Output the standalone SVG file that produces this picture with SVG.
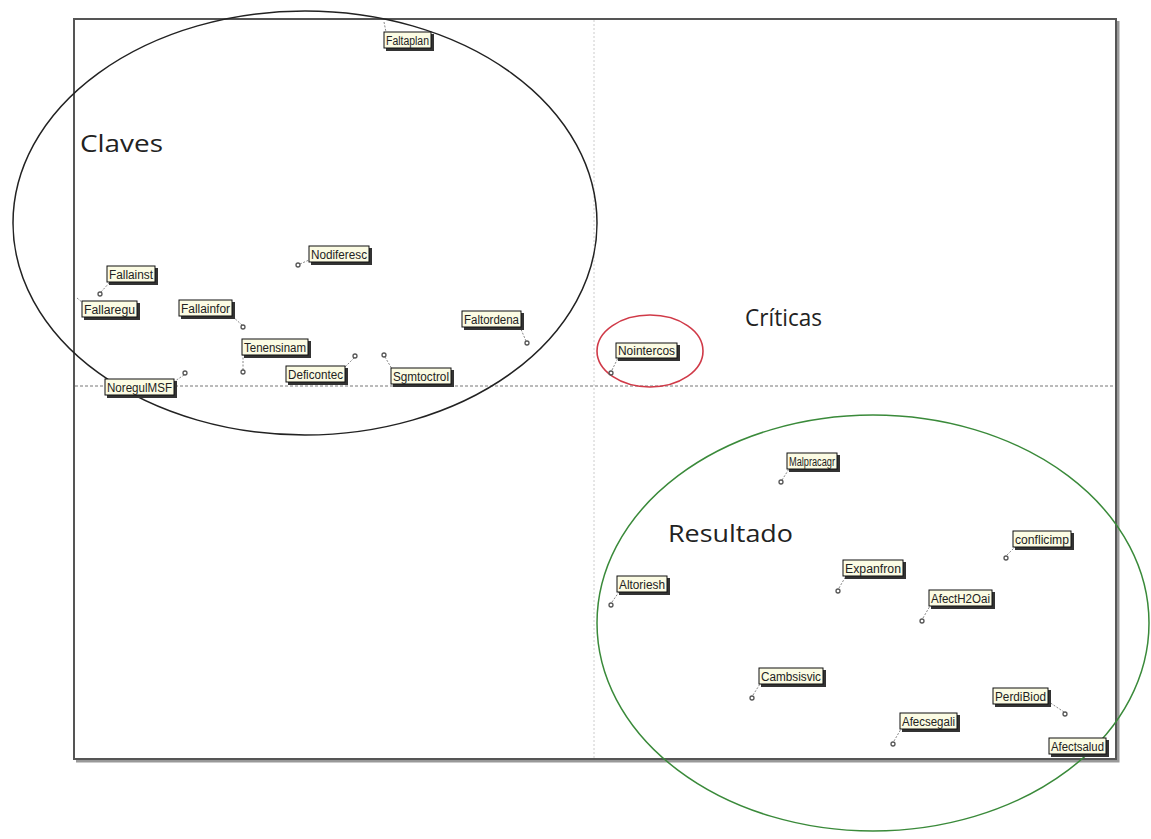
<svg xmlns="http://www.w3.org/2000/svg" width="1151" height="839" viewBox="0 0 1151 839">
<defs>
<style>
.frame{fill:none;stroke:#555;stroke-width:2}
.fshadow{fill:none;stroke:#999;stroke-width:3}
.axis{stroke:#777;stroke-width:1;stroke-dasharray:3,2}
.vaxis{stroke:#ccc;stroke-width:1;stroke-dasharray:2,2}
.sh{fill:#333}
.box{fill:#fbfbe3;stroke:#111;stroke-width:1}
.lbl{font-family:"Liberation Sans",Arial,sans-serif;font-size:12.5px;fill:#222}
.zone{font-family:"Open Sans","Liberation Sans",sans-serif;font-size:23px;fill:#222}
.lead{stroke:#888;stroke-width:1;stroke-dasharray:2,1.5;fill:none}
.pt{fill:none;stroke:#555;stroke-width:1.3}
</style>
</defs>
<rect width="1151" height="839" fill="#fff"/>
<path class="fshadow" d="M 76 761 L 1118 761 L 1118 21"/>
<rect class="frame" x="74" y="19" width="1042" height="740"/>
<line class="vaxis" x1="594" y1="20" x2="594" y2="758"/>
<line class="axis" x1="75" y1="386" x2="1115" y2="386"/>

<g id="zones">
<ellipse cx="305" cy="223" rx="292" ry="212" fill="none" stroke="#222" stroke-width="1.5"/>
<ellipse cx="650" cy="351" rx="53" ry="36" fill="none" stroke="#d03a48" stroke-width="1.6"/>
<ellipse cx="873" cy="623" rx="276" ry="208" fill="none" stroke="#3a8a3a" stroke-width="1.5"/>
<text class="zone" x="80" y="152" textLength="83" lengthAdjust="spacingAndGlyphs">Claves</text>
<text class="zone" x="745" y="326" textLength="77" lengthAdjust="spacingAndGlyphs">Críticas</text>
<text class="zone" x="668" y="542" textLength="125" lengthAdjust="spacingAndGlyphs">Resultado</text>
</g>

<g id="connectors">
<line class="lead" x1="384" y1="22" x2="386" y2="32"/>
<line class="lead" x1="300" y1="264" x2="309" y2="260"/>
<line class="lead" x1="101" y1="292" x2="110" y2="282"/>
<line class="lead" x1="77" y1="298" x2="83" y2="303"/>
<line class="lead" x1="242" y1="325" x2="232" y2="316"/>
<line class="lead" x1="526" y1="341" x2="520" y2="327"/>
<line class="lead" x1="243" y1="370" x2="243" y2="355"/>
<line class="lead" x1="354" y1="358" x2="345" y2="367"/>
<line class="lead" x1="385" y1="357" x2="392" y2="369"/>
<line class="lead" x1="184" y1="375" x2="175" y2="381"/>
<line class="lead" x1="612" y1="370" x2="618" y2="358"/>
<line class="lead" x1="782" y1="480" x2="789" y2="469"/>
<line class="lead" x1="839" y1="588" x2="846" y2="576"/>
<line class="lead" x1="612" y1="602" x2="619" y2="592"/>
<line class="lead" x1="1007" y1="555" x2="1015" y2="547"/>
<line class="lead" x1="923" y1="618" x2="930" y2="606"/>
<line class="lead" x1="753" y1="695" x2="760" y2="684"/>
<line class="lead" x1="1064" y1="712" x2="1049" y2="702"/>
<line class="lead" x1="894" y1="741" x2="901" y2="729"/>
</g>

<g id="n-faltaplan"><rect class="sh" x="386" y="34" width="48" height="17"/><rect class="box" x="384" y="32" width="47" height="16"/><text class="lbl" x="386" y="45" textLength="43" lengthAdjust="spacingAndGlyphs">Faltaplan</text></g>
<g id="n-nodiferesc"><rect class="sh" x="311" y="248" width="61" height="17"/><rect class="box" x="309" y="246" width="60" height="16"/><text class="lbl" x="311" y="259" textLength="56" lengthAdjust="spacingAndGlyphs">Nodiferesc</text><circle class="pt" cx="298" cy="265" r="2"/></g>
<g id="n-fallainst"><rect class="sh" x="109" y="268" width="49" height="17"/><rect class="box" x="107" y="266" width="48" height="16"/><text class="lbl" x="109" y="279" textLength="44" lengthAdjust="spacingAndGlyphs">Fallainst</text><circle class="pt" cx="100" cy="294" r="2"/></g>
<g id="n-fallaregu"><rect class="sh" x="84" y="303" width="56" height="17"/><rect class="box" x="82" y="301" width="55" height="16"/><text class="lbl" x="84" y="314" textLength="51" lengthAdjust="spacingAndGlyphs">Fallaregu</text></g>
<g id="n-fallainfor"><rect class="sh" x="181" y="302" width="54" height="17"/><rect class="box" x="179" y="300" width="53" height="16"/><text class="lbl" x="181" y="313" textLength="49" lengthAdjust="spacingAndGlyphs">Fallainfor</text><circle class="pt" cx="243" cy="327" r="2"/></g>
<g id="n-faltordena"><rect class="sh" x="464" y="313" width="60" height="17"/><rect class="box" x="462" y="311" width="59" height="16"/><text class="lbl" x="464" y="324" textLength="55" lengthAdjust="spacingAndGlyphs">Faltordena</text><circle class="pt" cx="527" cy="343" r="2"/></g>
<g id="n-tenensinam"><rect class="sh" x="244" y="341" width="67" height="17"/><rect class="box" x="242" y="339" width="66" height="16"/><text class="lbl" x="244" y="352" textLength="62" lengthAdjust="spacingAndGlyphs">Tenensinam</text><circle class="pt" cx="243" cy="372" r="2"/></g>
<g id="n-deficontec"><rect class="sh" x="288" y="368" width="60" height="17"/><rect class="box" x="286" y="366" width="59" height="16"/><text class="lbl" x="288" y="379" textLength="55" lengthAdjust="spacingAndGlyphs">Deficontec</text><circle class="pt" cx="355" cy="356" r="2"/></g>
<g id="n-sgmtoctrol"><rect class="sh" x="393" y="370" width="61" height="17"/><rect class="box" x="391" y="368" width="60" height="16"/><text class="lbl" x="393" y="381" textLength="56" lengthAdjust="spacingAndGlyphs">Sgmtoctrol</text><circle class="pt" cx="384" cy="355" r="2"/></g>
<g id="n-noregulmsf"><rect class="sh" x="107" y="381" width="70" height="17"/><rect class="box" x="105" y="379" width="69" height="16"/><text class="lbl" x="107" y="392" textLength="65" lengthAdjust="spacingAndGlyphs">NoregulMSF</text><circle class="pt" cx="185" cy="373" r="2"/></g>
<g id="n-nointercos"><rect class="sh" x="618" y="345" width="62" height="16"/><rect class="box" x="616" y="343" width="61" height="15"/><text class="lbl" x="618" y="355" textLength="57" lengthAdjust="spacingAndGlyphs">Nointercos</text><circle class="pt" cx="611" cy="373" r="2"/></g>
<g id="n-malpracagr"><rect class="sh" x="789" y="455" width="51" height="17"/><rect class="box" x="787" y="453" width="50" height="16"/><text class="lbl" x="789" y="466" textLength="46" lengthAdjust="spacingAndGlyphs">Malpracagr</text><circle class="pt" cx="781" cy="482" r="2"/></g>
<g id="n-expanfron"><rect class="sh" x="845" y="562" width="61" height="17"/><rect class="box" x="843" y="560" width="60" height="16"/><text class="lbl" x="845" y="573" textLength="56" lengthAdjust="spacingAndGlyphs">Expanfron</text><circle class="pt" cx="838" cy="591" r="2"/></g>
<g id="n-altoriesh"><rect class="sh" x="619" y="578" width="51" height="17"/><rect class="box" x="617" y="576" width="50" height="16"/><text class="lbl" x="619" y="589" textLength="46" lengthAdjust="spacingAndGlyphs">Altoriesh</text><circle class="pt" cx="611" cy="605" r="2"/></g>
<g id="n-conflicimp"><rect class="sh" x="1015" y="533" width="59" height="17"/><rect class="box" x="1013" y="531" width="58" height="16"/><text class="lbl" x="1015" y="544" textLength="54" lengthAdjust="spacingAndGlyphs">conflicimp</text><circle class="pt" cx="1006" cy="558" r="2"/></g>
<g id="n-afecth2oai"><rect class="sh" x="931" y="592" width="64" height="17"/><rect class="box" x="929" y="590" width="63" height="16"/><text class="lbl" x="931" y="603" textLength="59" lengthAdjust="spacingAndGlyphs">AfectH2Oai</text><circle class="pt" cx="922" cy="621" r="2"/></g>
<g id="n-cambsisvic"><rect class="sh" x="761" y="670" width="65" height="17"/><rect class="box" x="759" y="668" width="64" height="16"/><text class="lbl" x="761" y="681" textLength="60" lengthAdjust="spacingAndGlyphs">Cambsisvic</text><circle class="pt" cx="752" cy="698" r="2"/></g>
<g id="n-perdibiod"><rect class="sh" x="995" y="690" width="56" height="17"/><rect class="box" x="993" y="688" width="55" height="16"/><text class="lbl" x="995" y="701" textLength="51" lengthAdjust="spacingAndGlyphs">PerdiBiod</text><circle class="pt" cx="1065" cy="714" r="2"/></g>
<g id="n-afecsegali"><rect class="sh" x="902" y="715" width="58" height="17"/><rect class="box" x="900" y="713" width="57" height="16"/><text class="lbl" x="902" y="726" textLength="53" lengthAdjust="spacingAndGlyphs">Afecsegali</text><circle class="pt" cx="893" cy="744" r="2"/></g>
<g id="n-afectsalud"><rect class="sh" x="1051" y="740" width="58" height="17"/><rect class="box" x="1049" y="738" width="57" height="16"/><text class="lbl" x="1051" y="751" textLength="53" lengthAdjust="spacingAndGlyphs">Afectsalud</text></g>
</svg>
